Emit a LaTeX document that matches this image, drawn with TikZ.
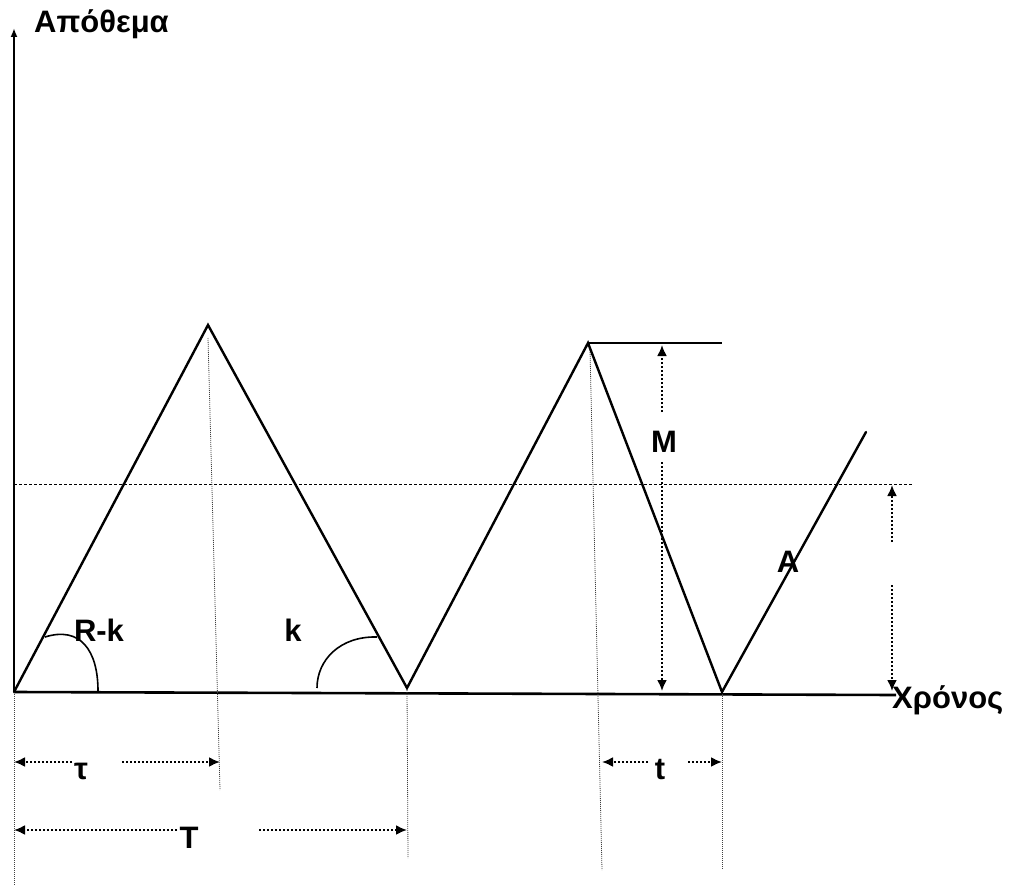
\documentclass[tikz,border=0pt]{standalone}
\usepackage{fontspec}
\setmainfont{Liberation Sans}[BoldFont={Liberation Sans Bold}]
\usetikzlibrary{arrows.meta}
\begin{document}
\begin{tikzpicture}[x=1pt,y=-1pt,
  wave/.style={line width=2.4pt,line join=miter,line cap=round},
  axisline/.style={line width=2.6pt},
  guide/.style={line width=0.8pt,dash pattern=on 1pt off 1pt,black!75},
  level/.style={line width=0.9pt,dash pattern=on 3pt off 2pt},
  dimarrow/.style={line width=2pt,dash pattern=on 2pt off 2pt,-{Latex[length=11pt,width=10pt]}},
  lbl/.style={font=\fontsize{31}{36}\selectfont\bfseries,inner sep=0pt},
  arc/.style={line width=1.6pt}]
\useasboundingbox (0,0) rectangle (1012,896);
% vertices
\coordinate (O) at (14,692);
\coordinate (P1) at (208,325);
\coordinate (V1) at (407,688);
\coordinate (P2) at (588,343);
\coordinate (V2) at (722,692);
\coordinate (E) at (866,432);
\coordinate (Ytop) at (14,28);
\coordinate (Xend) at (896,695);
\coordinate (Mh) at (722,343);
% axes
\draw[line width=2pt,-{Latex[length=9pt,width=7pt]}] (O) -- (Ytop);
\draw[axisline] (O) -- (Xend);
% level line
\coordinate (L0) at (14,484);
\coordinate (L1) at (913,484);
\draw[level] (L0) -- (L1);
% guides
\coordinate (G0) at (14,885);
\coordinate (G1a) at (208,338); \coordinate (G1b) at (220,790);
\coordinate (G2) at (408,858);
\coordinate (G3a) at (590,350); \coordinate (G3b) at (602,870);
\coordinate (G4) at (722,870);
\draw[guide] (O) -- (G0);
\draw[guide] (G1a) -- (G1b);
\draw[guide] (V1) -- (G2);
\draw[guide] (G3a) -- (G3b);
\draw[guide] (V2) -- (G4);
% wave
\draw[wave] (O) -- (P1) -- (V1) -- (P2) -- (V2) -- (E);
\draw[line width=2.2pt] (P2) -- (Mh);
% angle arcs
\coordinate (A1s) at (45,637); \coordinate (A1e) at (98,691);
\draw[arc] (A1s) .. controls (80,626) and (98,650) .. (A1e);
\coordinate (A2s) at (317,688); \coordinate (A2e) at (377,637);
\draw[arc] (A2s) .. controls (317,660) and (340,636) .. (A2e);
% labels
\node[lbl,anchor=base west] (yl) at (34,33) {Απόθεμα};
\node[lbl,anchor=base west] (xl) at (892,708) {Χρόνος};
\node[lbl,anchor=base] (Ml) at (664,452) {M};
\node[lbl,anchor=base] (Al) at (788,572) {A};
\node[lbl,anchor=base] (RKl) at (99,641) {R-k};
\node[lbl,anchor=base] (kl) at (293,641) {k};
\node[lbl,anchor=base] (taul) at (81,779) {τ};
\node[lbl,anchor=base] (Tl) at (189,848) {T};
\node[lbl,anchor=base] (tl) at (660,779) {t};
% dimension arrows
\coordinate (ta1) at (72,762); \coordinate (ta0) at (14,762);
\coordinate (ta2) at (122,762); \coordinate (ta3) at (220,762);
\draw[dimarrow] (ta1) -- (ta0);
\draw[dimarrow] (ta2) -- (ta3);
\coordinate (Ta1) at (177,830); \coordinate (Ta0) at (14,830);
\coordinate (Ta2) at (259,830); \coordinate (Ta3) at (407,830);
\draw[dimarrow] (Ta1) -- (Ta0);
\draw[dimarrow] (Ta2) -- (Ta3);
\coordinate (tb1) at (648,762); \coordinate (tb0) at (602,762);
\coordinate (tb2) at (688,762); \coordinate (tb3) at (722,762);
\draw[dimarrow] (tb1) -- (tb0);
\draw[dimarrow] (tb2) -- (tb3);
\coordinate (M1) at (662,412); \coordinate (M0) at (662,345);
\coordinate (M2) at (662,462); \coordinate (M3) at (662,691);
\draw[dimarrow] (M1) -- (M0);
\draw[dimarrow] (M2) -- (M3);
\coordinate (R1) at (892,542); \coordinate (R0) at (892,485);
\coordinate (R2) at (892,585); \coordinate (R3) at (892,691);
\draw[dimarrow] (R1) -- (R0);
\draw[dimarrow] (R2) -- (R3);
\end{tikzpicture}
\end{document}
